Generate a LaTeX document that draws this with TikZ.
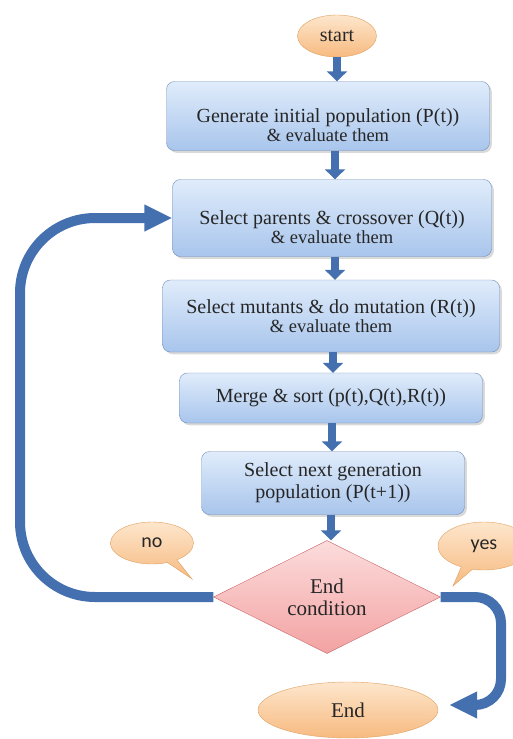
\documentclass[tikz,border=0pt]{standalone}
\usepackage{fontspec}
\setmainfont{Liberation Serif}
\newfontfamily\calloutfont{Carlito}
\usetikzlibrary{shapes.geometric,shapes.callouts,shadows,arrows.meta}

\definecolor{boxtop}{RGB}{224,236,251}
\definecolor{boxbot}{RGB}{168,197,236}
\definecolor{boxline}{RGB}{112,142,186}
\definecolor{ovaltop}{RGB}{253,230,204}
\definecolor{ovalbot}{RGB}{247,186,128}
\definecolor{ovalline}{RGB}{222,160,98}
\definecolor{diatop}{RGB}{252,220,220}
\definecolor{diabot}{RGB}{243,162,162}
\definecolor{dialine}{RGB}{196,104,104}
\definecolor{arrowblue}{RGB}{68,112,175}

\begin{document}
\begin{tikzpicture}[x=1pt,y=-1pt,
  stepbox/.style={draw=boxline, rounded corners=8pt, top color=boxtop, bottom color=boxbot,
    drop shadow={opacity=0.3}, align=center, text=black!85, inner sep=2pt,
    font=\fontsize{20}{22}\selectfont},
  oval/.style={ellipse, draw=ovalline, top color=ovaltop, bottom color=ovalbot, inner sep=0pt,
    text=black!85, font=\fontsize{20}{22}\selectfont},
  note/.style={ellipse callout, draw=ovalline, top color=ovaltop, bottom color=ovalbot,
    inner sep=0pt, text=black!85, font=\calloutfont\fontsize{20}{22}\selectfont},
  flow/.style={arrowblue, line width=8pt, -{Triangle[width=20pt,length=10pt]}},
  loop/.style={arrowblue, line width=10pt, -{Triangle[width=25pt,length=28pt]}}
]
\clip (0,0) rectangle (513,739);
% Start
\node[oval, minimum width=79pt, minimum height=42pt] (start) at (337,36) {start};
% Steps
\node[stepbox, minimum width=323pt, minimum height=69pt] (gen) at (328,116)
  {\rule{0pt}{33pt}Generate initial population (P(t))\\[-3pt]{\fontsize{18.5}{19}\selectfont \& evaluate them}};
\node[stepbox, minimum width=319pt, minimum height=77pt] (cross) at (332,218)
  {\rule{0pt}{32pt}Select parents \& crossover (Q(t))\\[-3pt]{\fontsize{18.5}{19}\selectfont \& evaluate them}};
\node[stepbox, minimum width=337pt, minimum height=72pt] (mut) at (331,316)
  {Select mutants \& do mutation (R(t))\\[-3pt]{\fontsize{18.5}{19}\selectfont \& evaluate them}};
\node[stepbox, minimum width=303pt, minimum height=50pt] (merge) at (331,398)
  {Merge \& sort (p(t),Q(t),R(t))};
\node[stepbox, minimum width=263pt, minimum height=63pt] (next) at (333,483)
  {Select next generation\\population (P(t+1))};
% Condition
\node[diamond, aspect=2, draw=dialine, top color=diatop, bottom color=diabot, inner sep=0pt,
  minimum width=227pt, minimum height=113pt, align=center, text=black!85,
  font=\fontsize{21}{22}\selectfont] (cond) at (327,597) {End\\condition};
% End
\node[oval, minimum width=180pt, minimum height=56pt, font=\fontsize{21}{22}\selectfont] (stop) at (348,710) {End};
% Callouts
\node[note, minimum width=83pt, minimum height=42pt, callout absolute pointer={(192,579)}] (no) at (152,543) {no};
\node[note, minimum width=92pt, minimum height=48pt, callout absolute pointer={(453,586)}] (yes) at (484,546) {yes};
% Flow arrows
\draw[flow] (start.south) -- (start.south |- gen.north);
\draw[flow] ([xshift=7pt]gen.south) -- ([xshift=7pt]gen.south |- cross.north);
\draw[flow] ([xshift=3pt]cross.south) -- ([xshift=3pt]cross.south |- mut.north);
\draw[flow] ([xshift=2pt]mut.south) -- ([xshift=2pt]mut.south |- merge.north);
\draw[flow] ([xshift=1pt]merge.south) -- ([xshift=1pt]merge.south |- next.north);
\draw[flow] ([xshift=-2pt]next.south) -- ([xshift=-2pt]next.south |- cond.north);
% Loop back (no)
\coordinate (loopx) at (20,0);
\draw[loop, rounded corners=75pt] (cond.west) -- (cond.west -| loopx) -- (cross.west -| loopx) -- (cross.west);
% Exit (yes)
\coordinate (exitx) at (501,0);
\draw[loop, rounded corners=26pt, shorten >=11pt] (cond.east) -- (cond.east -| exitx) -- ([yshift=5pt]stop.east -| exitx) -- ([yshift=5pt]stop.east);
\end{tikzpicture}
\end{document}
